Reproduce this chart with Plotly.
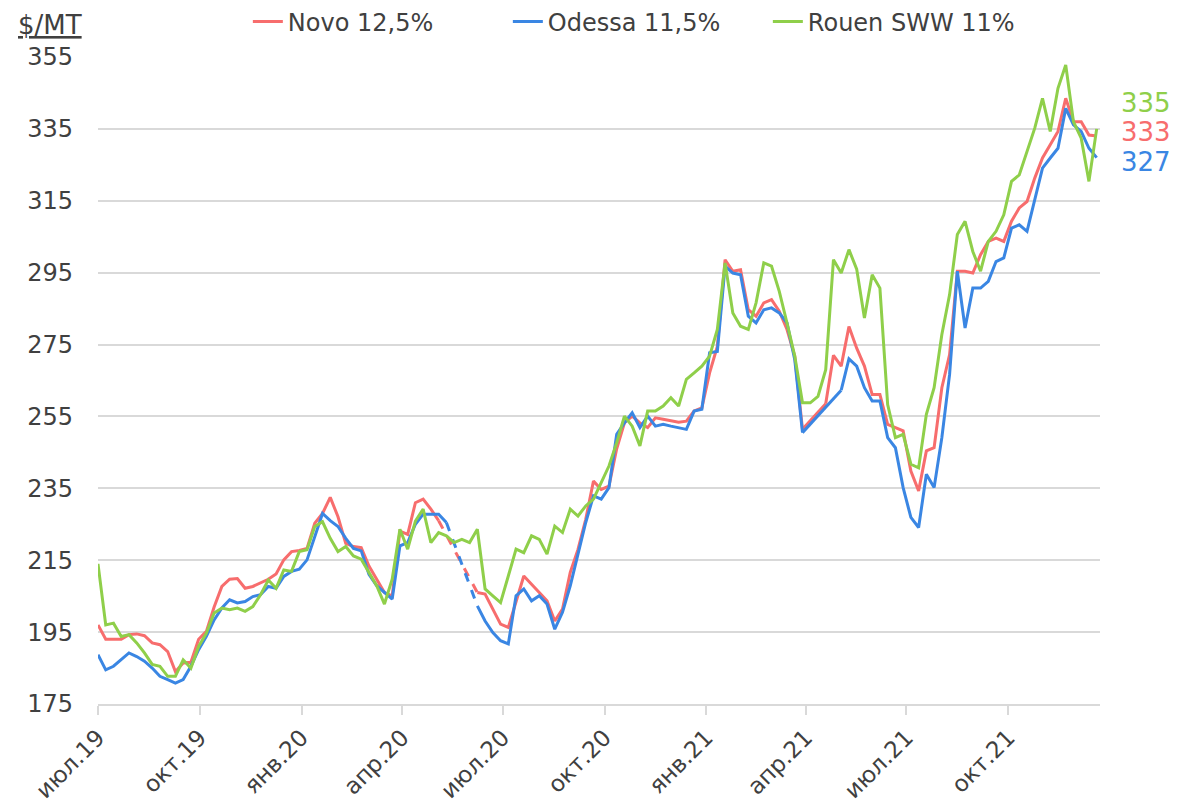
import pandas as pd
import plotly.graph_objects as go

START = "2019-07-01"
FREQ = "7D"

novo = [197, 193, 193, 193, 194.3, 194.5, 194, 192, 191.5, 189.6,
        184, 186.4, 186.6, 193, 195.2, 202, 207.7, 209.7, 209.9, 207.2,
        207.7, 208.6, 209.7, 211.2, 215.1, 217.4, 217.7, 218.3, 225.3, 228,
        232.5, 227.1, 219.7, 218.8, 218.5, 213.4, 209.7, 206, 205.1, 223.1,
        222.2, 231, 232, 229.2, 226, None, None, None, None, 206,
        205.6, 201.4, 197.2, 196.3, 203.2, 210.6, 208.3, 206, 203.7, 198.1,
        201.4, 211.6, 218, 226.4, 237, 234.7, 235.6, 246, 253.2, 255.1,
        253.2, 251.9, 254.6, 254.2, 253.7, 253.4, 253.7, 256.5, 257.4, 267.1,
        274.5, 298.6, 295.4, 295.8, 284.7, 282.9, 286.6, 287.5, 284.3, 279.2,
        271.8, 251.4, None, None, 258.5, 272, 269, 280, 274, 269,
        261.1, 261.1, 252.8, 251.9, 251, 239.8, 234.3, 245.4, 246.3, 263,
        272.2, 295.4, 295.4, 294.9, 300, 303.7, 304.6, 303.7, 309.3, 313,
        314.8, 321.3, 326.9, 330.6, 334.3, 343.5, 337, 337, 333.3, 333]

odessa = [188.7, 184.5, 185.5, 187.3, 189.2, 188.2, 186.9, 185, 182.7, 181.8,
          180.8, 181.8, 185.5, 190.1, 193.8, 198.4, 201.7, 204, 203.1, 203.5,
          204.9, 205.4, 207.7, 207.2, 210.5, 211.9, 212.5, 215.1, 221.6, 228,
          226, 224.4, 221.1, 218.3, 217.6, 211.1, 207.9, 206, 204.2, 219,
          219.9, 225, 227.8, 227.8, 227.8, 225.5, None, None, None, 202.3,
          198.1, 194.9, 192.6, 191.7, 205.1, 207, 203.7, 205.1, 202.8, 195.8,
          200.5, 207.9, 217.1, 225.5, 232.9, 232, 235.2, 250, 253.2, 256,
          251.9, 255.1, 252.3, 252.8, 252.3, 251.9, 251.4, 256.5, 257, 272.7,
          273.1, 296.8, 294.9, 294.4, 282.9, 281, 284.7, 285.2, 283.8, 281,
          270.8, 250.5, None, None, None, None, 262.3, 271, 269, 263,
          259.3, 259.3, 249.1, 246.3, 235.2, 226.9, 224.1, 238.9, 235.2, 249.1,
          266.7, 295.4, 279.6, 290.7, 290.7, 292.6, 298.1, 299.1, 307.4, 308.3,
          306.5, 315.7, 324.1, 326.9, 329.6, 340.7, 336.1, 334.3, 329.6, 327]

rouen = [214, 197, 197.5, 193.8, 194.3, 192, 189.2, 186, 185.5, 182.7,
         182.7, 187.3, 185, 191, 194.7, 200.3, 201.7, 201.2, 201.7, 200.8,
         202.1, 205.4, 209.5, 207.2, 212.3, 211.9, 217.4, 217.9, 224.4, 225.7,
         221.1, 217.4, 218.8, 216.2, 215.3, 211.6, 207.9, 202.8, 209.7, 223.6,
         218.1, 225.9, 229.2, 219.9, 222.7, 221.8, 219.9, 220.8, 219.9, 223.6,
         207, 205.1, 203.2, 210.6, 218.1, 217.1, 221.8, 220.8, 216.7, 224.5,
         222.7, 229.2, 227.3, 230.1, 232, 236.6, 241.2, 247.7, 255.1, 252.3,
         246.8, 256.5, 256.5, 257.9, 260.2, 257.9, 265.3, 267.1, 269, 271.8,
         279.2, 297.7, 283.8, 280.1, 279.2, 286.6, 297.7, 296.8, 289.8, 281,
         271.8, 258.8, 258.8, 260.6, 268, 298.6, 294.9, 301.4, 296, 282.4,
         294.4, 290.7, 258.3, 249.1, 250, 241.7, 240.7, 255.6, 263, 277.8,
         288.9, 305.6, 309.3, 300.9, 295.4, 303.7, 306.5, 311.1, 320.4, 322.2,
         328.7, 335.2, 343.5, 334.3, 346.3, 352.8, 337, 332.4, 320.4, 335]

series_names = ["Novo 12,5%", "Odessa 11,5%", "Rouen SWW 11%"]
series_colors = ["#F76D6D", "#3A86E3", "#8FCF4A"]
label_shift = [4, -4, 26]

tick_dates = ["2019-07-01", "2019-10-01", "2020-01-01", "2020-04-01", "2020-07-01",
              "2020-10-01", "2021-01-01", "2021-04-01", "2021-07-01", "2021-10-01"]
tick_text = ["июл.19", "окт.19", "янв.20", "апр.20", "июл.20",
             "окт.20", "янв.21", "апр.21", "июл.21", "окт.21"]

FONT = "DejaVu Sans"
TXT = "#404040"
GRID = "#D9D9D9"

fig = go.Figure()
all_series = [novo, odessa, rouen]
for name, vals, col in zip(series_names, all_series, series_colors):
    dates = pd.date_range(START, periods=len(vals), freq=FREQ)
    fig.add_trace(go.Scatter(x=dates, y=vals, mode="lines", name=name,
                             line=dict(color=col, width=3), connectgaps=False))
    # connectors across missing data
    i = 0
    n = len(vals)
    while i < n:
        if vals[i] is None:
            j = i
            while j < n and vals[j] is None:
                j += 1
            a, b = i - 1, j
            dash = "dash" if dates[a].year == 2020 else "solid"
            fig.add_trace(go.Scatter(x=[dates[a], dates[b]], y=[vals[a], vals[b]],
                                     mode="lines", showlegend=False, hoverinfo="skip",
                                     line=dict(color=col, width=3, dash=dash)))
            i = j
        else:
            i += 1

for vals, col, sh in zip(all_series, series_colors, label_shift):
    fig.add_annotation(x=1.0, xref="paper", y=vals[-1], yref="y", yshift=sh,
                       text=f"{vals[-1]:.0f}", showarrow=False, xanchor="left",
                       xshift=19, font=dict(family=FONT, size=26, color=col))

fig.add_annotation(x=-0.048, xref="paper", y=1.049, yref="paper", text="<u>$/MT</u>",
                   showarrow=False, xanchor="center", yanchor="middle",
                   font=dict(family=FONT, size=26, color=TXT))

fig.update_layout(
    width=1170, height=796,
    margin=dict(l=90, r=78, t=49, b=100, autoexpand=False),
    paper_bgcolor="white", plot_bgcolor="white",
    font=dict(family=FONT, size=24, color=TXT),
    showlegend=True,
    legend=dict(orientation="h", xref="container", yref="container",
                x=0.205, xanchor="left", y=0.9824, yanchor="middle",
                entrywidth=215, entrywidthmode="pixels",
                font=dict(family=FONT, size=24, color=TXT),
                bgcolor="rgba(0,0,0,0)"),
    hovermode=False,
)
fig.update_xaxes(
    type="date", range=["2019-07-01", "2021-12-23"], automargin=False,
    tickvals=tick_dates, ticktext=tick_text, tickangle=-45,
    showgrid=False, showline=True, linecolor=GRID, linewidth=2,
    ticks="outside", ticklen=9, tickcolor=GRID, tickwidth=2,
    tickfont=dict(family=FONT, size=23, color=TXT),
)
fig.update_yaxes(
    range=[175, 355], tick0=175, dtick=20, automargin=False,
    showgrid=True, gridcolor=GRID, gridwidth=2, zeroline=False,
    ticks="", ticklabelstandoff=24,
    tickfont=dict(family=FONT, size=24, color=TXT),
)

fig.write_html("out.html")
